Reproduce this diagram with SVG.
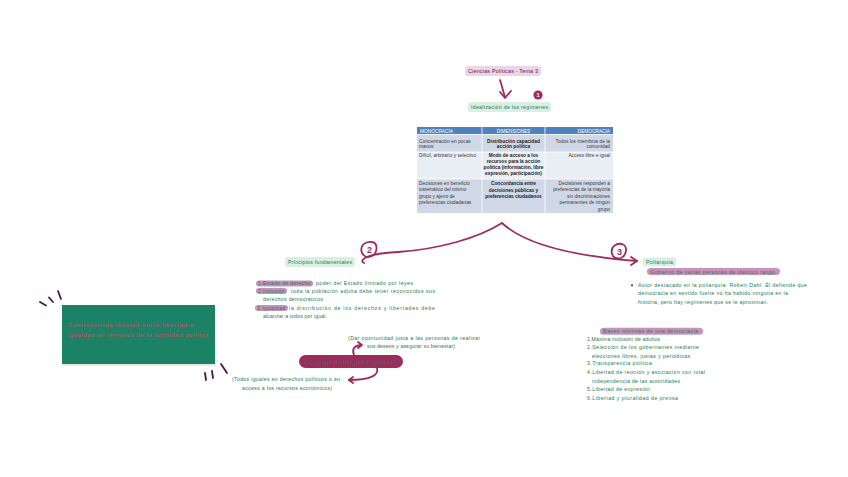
<svg xmlns="http://www.w3.org/2000/svg" width="848" height="477" viewBox="0 0 848 477">
<defs>
<style>
.hw{font-family:"Liberation Sans",Arial,sans-serif;font-size:5.2px;fill:#1e7a55;}
.pk{font-family:"Liberation Sans",Arial,sans-serif;font-size:5.4px;fill:#5e1a47;}
.tb{font-family:"Liberation Sans",Arial,sans-serif;font-size:4.8px;fill:#3a3a3a;}
.tbb{font-family:"Liberation Sans",Arial,sans-serif;font-size:4.8px;fill:#222;font-weight:bold;text-anchor:middle;}
.th{font-family:"Liberation Sans",Arial,sans-serif;font-size:4.8px;fill:#ffffff;}
.gp{fill:#d9efe3;}
.hl{fill:#c07fb2;opacity:0.85;}
.con{fill:none;stroke:#9c2b5e;stroke-width:1.8;stroke-linecap:round;stroke-linejoin:round;}
.tick{fill:none;stroke:#4b1742;stroke-width:1.8;stroke-linecap:round;}
.num{font-family:"Liberation Sans",Arial,sans-serif;font-size:9px;font-weight:bold;fill:#9c2b5e;text-anchor:middle;}
</style>
</defs>
<rect width="848" height="477" fill="#ffffff"/>

<g id="title">
<rect x="465" y="66" width="76" height="10" rx="3" fill="#ecd5e8"/>
<text class="pk" x="468" y="72.8" textLength="70" lengthAdjust="spacing">Ciencias Políticas - Tema 3</text>
</g>

<g id="badge1">
<circle cx="538" cy="95" r="4.6" fill="#a32a62"/>
<text x="538" y="97" font-family="Liberation Sans,Arial,sans-serif" font-size="5.5" font-weight="bold" fill="#ffffff" text-anchor="middle">1</text>
</g>

<g id="idealizacion">
<rect x="468" y="102" width="83" height="10" rx="2.5" class="gp"/>
<text class="hw" x="471" y="109" textLength="77" lengthAdjust="spacing">Idealización de los regímenes</text>
</g>

<g id="tabla">
<rect x="417" y="127" width="196" height="7.5" fill="#4f81bd"/>
<rect x="417" y="134.5" width="196" height="17.5" fill="#d0d8e8"/>
<rect x="417" y="152" width="196" height="27" fill="#e9edf4"/>
<rect x="417" y="179" width="196" height="34" fill="#d0d8e8"/>
<line x1="482" y1="127" x2="482" y2="213" stroke="#ffffff" stroke-width="0.8"/>
<line x1="545" y1="127" x2="545" y2="213" stroke="#ffffff" stroke-width="0.8"/>
<line x1="417" y1="134.5" x2="613" y2="134.5" stroke="#ffffff" stroke-width="0.8"/>
<line x1="417" y1="152" x2="613" y2="152" stroke="#ffffff" stroke-width="0.8"/>
<line x1="417" y1="179" x2="613" y2="179" stroke="#ffffff" stroke-width="0.8"/>
<text class="th" x="420" y="132.6">MONOCRACIA</text>
<text class="th" x="513.5" y="132.6" text-anchor="middle">DIMENSIONES</text>
<text class="th" x="610" y="132.6" text-anchor="end">DEMOCRACIA</text>

<text class="tb" x="419" y="142.5">Concentración en pocas</text>
<text class="tb" x="419" y="148">manos</text>
<text class="tbb" x="513.5" y="142.5">Distribución capacidad</text>
<text class="tbb" x="513.5" y="148">acción política</text>
<text class="tb" x="610" y="142.5" text-anchor="end">Todos los miembros de la</text>
<text class="tb" x="610" y="148" text-anchor="end">comunidad</text>

<text class="tb" x="419" y="157">Difícil, arbitrario y selectivo</text>
<text class="tbb" x="513.5" y="157">Modo de acceso a los</text>
<text class="tbb" x="513.5" y="162.8" font-weight="normal">recursos para la acción</text>
<text class="tbb" x="513.5" y="168.6">política (información, libre</text>
<text class="tbb" x="513.5" y="174.6">expresión, participación)</text>
<text class="tb" x="610" y="157" text-anchor="end">Acceso libre e igual</text>

<text class="tb" x="419" y="184.5">Decisiones en beneficio</text>
<text class="tb" x="419" y="190.8">sistemático del mismo</text>
<text class="tb" x="419" y="197.6">grupo y ajeno de</text>
<text class="tb" x="419" y="204.4">preferencias ciudadanas</text>
<text class="tbb" x="513.5" y="184.5">Concordancia entre</text>
<text class="tbb" x="513.5" y="191.6">decisiones públicas y</text>
<text class="tbb" x="513.5" y="198.4">preferencias ciudadanos</text>
<text class="tb" x="610" y="184.5" text-anchor="end">Decisiones responden a</text>
<text class="tb" x="610" y="190.8" text-anchor="end">preferencias de la mayoría</text>
<text class="tb" x="610" y="197.6" text-anchor="end">sin discriminaciones</text>
<text class="tb" x="610" y="204.4" text-anchor="end">permanentes de ningún</text>
<text class="tb" x="610" y="211.2" text-anchor="end" font-size="4">grupo</text>
</g>

<g id="connectors">
<path class="con" d="M500 80 C502 86, 503 91, 505 97"/>
<path class="con" d="M500 92 L505 98 L511 91"/>
<path class="con" d="M502 223 C478 238, 440 249, 398 252 C380 253, 370 255, 365 258 Q360 261 364 263"/>
<path class="con" d="M502 223 C520 240, 560 255, 637 261"/>
<path class="con" d="M631 257 L637 261 L631 265"/>
<path class="con" d="M354 355 C352 350, 353 346, 361 345"/>
<path class="con" d="M358 342 L362 345 L358 348"/>
<path class="con" d="M377 368 C379 375, 371 380, 349 380"/>
<path class="con" d="M353 377 L349 380 L353 383"/>
</g>

<g id="badge2">
<path class="con" d="M362 253 C359 245, 366 241, 372 242 C378 243, 378 252, 372 256 C368 258, 364 257, 362 253"/>
<text class="num" x="369.5" y="252.5">2</text>
</g>

<g id="badge3">
<path class="con" d="M612 254 C610 246, 617 243, 622 244 C628 246, 627 255, 621 258 C617 259, 613 258, 612 254"/>
<text class="num" x="619.5" y="254.5">3</text>
</g>

<g id="principios">
<rect x="285" y="257" width="70" height="10" rx="2.5" class="gp"/>
<text class="hw" x="288" y="264" textLength="64" lengthAdjust="spacing">Principios fundamentales</text>
</g>

<g id="principios-lista">
<rect class="hl" x="256" y="280.5" width="57" height="6" rx="3"/>
<rect class="hl" x="256" y="288" width="31" height="6" rx="3"/>
<rect class="hl" x="255" y="305" width="33" height="6" rx="3"/>
<text class="hw" x="258" y="285" textLength="54" lengthAdjust="spacing">1.Estado de derecho:</text>
<text class="hw" x="316" y="285" textLength="97" lengthAdjust="spacing">poder del Estado limitado por leyes</text>
<text class="hw" x="258" y="293" textLength="28" lengthAdjust="spacing">2.Inclusión:</text>
<text class="hw" x="291" y="293" textLength="144" lengthAdjust="spacing">toda la población adulta debe tener reconocidos sus</text>
<text class="hw" x="263" y="301" textLength="60" lengthAdjust="spacing">derechos democráticos</text>
<text class="hw" x="257" y="310" textLength="30" lengthAdjust="spacing">3.Igualdad:</text>
<text class="hw" x="289" y="310" textLength="146" lengthAdjust="spacing">la distribución de los derechos y libertades debe</text>
<text class="hw" x="263" y="318" textLength="64" lengthAdjust="spacing">alcanzar a todos por igual.</text>
</g>

<g id="controvertida">
<rect x="63" y="363" width="152" height="3" fill="#e6e6e6"/>
<rect x="62" y="305" width="153" height="59" fill="#1c8266"/>
<text x="68" y="327" font-family="Liberation Sans,Arial,sans-serif" font-size="5.6" fill="#d9466f" textLength="125" lengthAdjust="spacing">Controvertida tensión entre libertad e</text>
<text x="68" y="337" font-family="Liberation Sans,Arial,sans-serif" font-size="5.6" fill="#d9466f" textLength="140" lengthAdjust="spacing">igualdad en términos de la actividad política</text>
</g>

<g id="marcas">
<path class="tick" d="M40 302 L46 305.5"/>
<path class="tick" d="M49 297.5 L53 302"/>
<path class="tick" d="M58 291 L61 299"/>
<path class="tick" d="M205 373 L206 380"/>
<path class="tick" d="M212 371 L213 378"/>
<path class="tick" d="M221 364 L227 373"/>
</g>

<g id="complejo">
<rect x="299" y="355" width="104" height="13" rx="6.5" fill="#9c2b5e"/>
<text class="hw" x="351" y="363.5" text-anchor="middle" textLength="90" lengthAdjust="spacing" fill="#1f8a5e">Complejo de libertad e igualdad</text>
</g>

<g id="dar-oportunidad">
<text class="hw" x="348" y="339.5" textLength="132" lengthAdjust="spacing">(Dar oportunidad justa a las personas de realizar</text>
<text class="hw" x="367" y="348" textLength="88" lengthAdjust="spacing">sus deseos y asegurar su bienestar)</text>
</g>

<g id="todos-iguales">
<text class="hw" x="232" y="381" textLength="108" lengthAdjust="spacing">(Todos iguales en derechos políticos o en</text>
<text class="hw" x="242" y="389.5" textLength="90" lengthAdjust="spacing">acceso a los recursos económicos)</text>
</g>

<g id="poliarquia">
<rect x="643" y="257.5" width="33" height="9" rx="2.5" class="gp"/>
<text class="hw" x="646" y="263.8" textLength="27" lengthAdjust="spacing">Poliarquía</text>
<rect class="hl" x="647" y="268" width="133" height="7" rx="3.5"/>
<text class="hw" x="650" y="273.5" textLength="125" lengthAdjust="spacing" fill="#3d2b3a">Gobierno de varias personas de idéntico rango</text>
</g>

<g id="dahl">
<rect x="631" y="284.3" width="2" height="2" fill="#1e7a55"/>
<text class="hw" x="638" y="286.5" textLength="169" lengthAdjust="spacing">Autor destacado en la poliarquía: Robert Dahl. Él defiende que</text>
<text class="hw" x="638" y="295.3" textLength="150" lengthAdjust="spacing">democracia en sentido fuerte no ha habido ninguna en la</text>
<text class="hw" x="638" y="304" textLength="130" lengthAdjust="spacing">historia, pero hay regímenes que se le aproximan.</text>
</g>

<g id="bases">
<rect class="hl" x="600" y="327.8" width="103" height="7" rx="3.5"/>
<text class="hw" x="603" y="333.2" textLength="95" lengthAdjust="spacing" fill="#3d2b3a">Bases mínimas de una democracia</text>
<text class="hw" x="587" y="341" textLength="73" lengthAdjust="spacing">1.Máxima inclusión de adultos</text>
<text class="hw" x="587" y="349.2" textLength="112" lengthAdjust="spacing">2.Selección de los gobernantes mediante</text>
<text class="hw" x="592" y="357.8" textLength="98" lengthAdjust="spacing">elecciones libres, justas y periódicas</text>
<text class="hw" x="587" y="365.2" textLength="65" lengthAdjust="spacing">3.Transparencia política</text>
<text class="hw" x="587" y="374" textLength="118" lengthAdjust="spacing">4.Libertad de reunión y asociación con total</text>
<text class="hw" x="592" y="382.6" textLength="88" lengthAdjust="spacing">independencia de las autoridades</text>
<text class="hw" x="587" y="391" textLength="63" lengthAdjust="spacing">5.Libertad de expresión</text>
<text class="hw" x="587" y="399.6" textLength="91" lengthAdjust="spacing">6.Libertad y pluralidad de prensa</text>
</g>
</svg>
